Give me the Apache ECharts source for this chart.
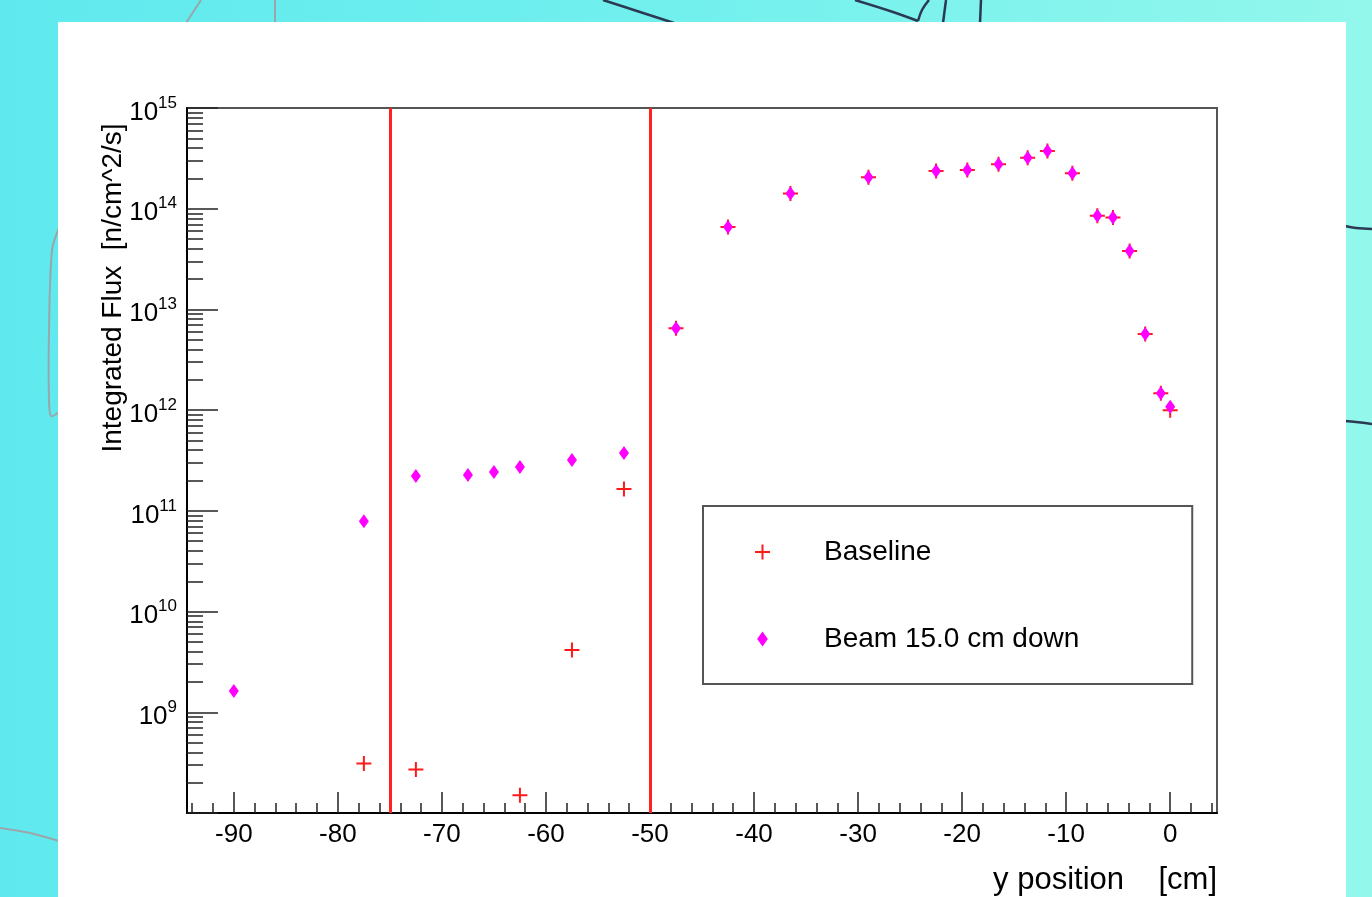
<!DOCTYPE html>
<html>
<head>
<meta charset="utf-8">
<script src="https://cdn.jsdelivr.net/npm/echarts@6/dist/echarts.min.js"></script>
<style>
  html, body { margin: 0; padding: 0; }
  #chart {
    width: 1372px; height: 897px;
    background: linear-gradient(90deg, #5fe9ee 0%, #72f0ee 50%, #93f7ec 100%);
  }
</style>
</head>
<body>
<div id="chart"></div>
<script>
// Scan positions [cm] and integrated flux [n/cm^2/s]
const beamX = [-90, -77.5, -72.5, -67.5, -65, -62.5, -57.5, -52.5, -47.5, -42.5, -36.5, -29,
               -22.5, -19.5, -16.5, -13.7, -11.8, -9.4, -7, -5.5, -3.9, -2.4, -0.9, 0];
const beamFlux = [1.63e9, 7.9e10, 2.22e11, 2.27e11, 2.43e11, 2.72e11, 3.2e11, 3.75e11,
                  6.5e12, 6.6e13, 1.42e14, 2.05e14, 2.37e14, 2.42e14, 2.76e14, 3.21e14,
                  3.74e14, 2.25e14, 8.5e13, 8.2e13, 3.8e13, 5.7e12, 1.47e12, 1.08e12];

const baseX = [-77.5, -72.5, -62.5, -57.5, -52.5, -47.5, -42.5, -36.5, -29, -22.5, -19.5,
               -16.5, -13.7, -11.8, -9.4, -7, -5.5, -3.9, -2.4, -0.9, 0];
const baseFlux = [3.1e8, 2.7e8, 1.5e8, 4.15e9, 1.65e11, 6.5e12, 6.6e13, 1.42e14, 2.05e14,
                  2.37e14, 2.42e14, 2.76e14, 3.21e14, 3.74e14, 2.25e14, 8.5e13, 8.2e13,
                  3.8e13, 5.7e12, 1.47e12, 1.0e12];

// Region boundaries [cm]
const cutLines = [-75, -50];

// Axis ticks
const xMajor = [-90, -80, -70, -60, -50, -40, -30, -20, -10, 0];
const xMinor = [-94, -92, -88, -86, -84, -82, -78, -76, -74, -72, -68, -66, -64, -62,
                -58, -56, -54, -52, -48, -46, -44, -42, -38, -36, -34, -32, -28, -26,
                -24, -22, -18, -16, -14, -12, -8, -6, -4, -2, 2, 4];
const yDecades = [9, 10, 11, 12, 13, 14, 15];          // labelled powers of ten
const yMajorExp = [8, 9, 10, 11, 12, 13, 14, 15];
const yMinorExp = [];
for (let n = 8; n < 15; n++) {
  for (let k = 2; k <= 9; k++) yMinorExp.push(n + Math.log10(k));
}

const FONT = '"Liberation Sans", Arial, Helvetica, sans-serif';
const PLUS = 'path://M6.5,0h2v6.5h6.5v2h-6.5v6.5h-2v-6.5h-6.5v-2h6.5z';
const DIAMOND = 'path://M5,0L10,7L5,14L0,7Z';

const toPairs = (xs, ys) => xs.map((x, i) => [x, ys[i]]);

const chart = echarts.init(document.getElementById('chart'), null, { renderer: 'canvas' });

const tickStyle = { color: '#222', width: 1.5 };

chart.setOption({
  animation: false,
  backgroundColor: 'transparent',
  textStyle: { fontFamily: FONT },
  grid: {
    left: 187, top: 108, width: 1030, height: 705,
    show: true, backgroundColor: '#fff', borderColor: '#555', borderWidth: 2
  },
  legend: {
    orient: 'vertical',
    left: 703, top: 506,
    padding: [31, 113, 30, 52],
    itemGap: 57,
    itemWidth: 15, itemHeight: 15,
    backgroundColor: '#fff',
    borderColor: '#555', borderWidth: 2,
    selectedMode: false,
    formatter: name => '{t|' + name + '}',
    textStyle: {
      fontSize: 28, color: '#000', fontFamily: FONT, lineHeight: 30,
      rich: { t: { fontSize: 28, lineHeight: 30, color: '#000', fontFamily: FONT, padding: [0, 0, 0, 49] } }
    },
    data: ['Baseline', 'Beam 15.0 cm down']
  },
  xAxis: [
    {
      type: 'value', min: -94.5, max: 4.5, position: 'bottom',
      axisLine: { show: true, onZero: false, lineStyle: { color: '#000', width: 2 } },
      axisTick: { show: true, inside: true, length: 21, customValues: xMajor, lineStyle: tickStyle },
      axisLabel: { customValues: xMajor, fontSize: 26, color: '#000', margin: 9, fontFamily: FONT },
      splitLine: { show: false }
    },
    {
      type: 'value', min: -94.5, max: 4.5, position: 'bottom',
      axisLine: { show: false, onZero: false },
      axisTick: { show: true, inside: true, length: 10, customValues: xMinor, lineStyle: tickStyle },
      axisLabel: { show: false },
      splitLine: { show: false }
    }
  ],
  yAxis: [
    {
      type: 'log', logBase: 10, min: 1e8, max: 1e15, position: 'left',
      axisLine: { show: true, onZero: false, lineStyle: { color: '#000', width: 2 } },
      axisTick: { show: false },
      axisLabel: { show: false },
      splitLine: { show: false }
    },
    {
      type: 'value', min: 8, max: 15, position: 'left',
      axisLine: { show: false, onZero: false },
      axisTick: { show: true, inside: true, length: 31, customValues: yMajorExp, lineStyle: tickStyle },
      axisLabel: {
        customValues: yDecades,
        margin: 10,
        padding: [9, 0, 0, 0],
        formatter: v => '{b|10}{s|' + v + '}',
        rich: {
          b: { fontSize: 26, lineHeight: 36, color: '#000', fontFamily: FONT },
          s: { fontSize: 17, lineHeight: 17, verticalAlign: 'top', color: '#000', fontFamily: FONT }
        }
      },
      splitLine: { show: false }
    },
    {
      type: 'value', min: 8, max: 15, position: 'left',
      axisLine: { show: false, onZero: false },
      axisTick: { show: true, inside: true, length: 16, customValues: yMinorExp, lineStyle: tickStyle },
      axisLabel: { show: false },
      splitLine: { show: false }
    }
  ],
  series: [
    {
      name: 'Baseline',
      type: 'scatter',
      xAxisIndex: 0, yAxisIndex: 0,
      symbol: PLUS, symbolSize: 15,
      itemStyle: { color: '#ff1a1a', opacity: 1 },
      data: toPairs(baseX, baseFlux),
      markLine: {
        silent: true,
        symbol: ['none', 'none'],
        label: { show: false },
        lineStyle: { color: '#ff2020', width: 3, type: 'solid' },
        emphasis: { disabled: true },
        data: cutLines.map(v => ({ xAxis: v }))
      },
      z: 3
    },
    {
      name: 'Beam 15.0 cm down',
      type: 'scatter',
      xAxisIndex: 0, yAxisIndex: 0,
      symbol: DIAMOND, symbolSize: [10, 14],
      itemStyle: { color: '#ff00ff', opacity: 1 },
      data: toPairs(beamX, beamFlux),
      z: 4
    }
  ],
  graphic: [
    // background sketch strokes
    { type: 'polyline', z: -20, shape: { points: [[603, 0], [640, 12], [674, 23]], smooth: 0.3 },
      style: { stroke: '#2b3a52', lineWidth: 2.5, fill: null } },
    { type: 'polyline', z: -20, shape: { points: [[855, 0], [893, 12], [918, 21]], smooth: 0.3 },
      style: { stroke: '#2b3a52', lineWidth: 2.5, fill: null } },
    { type: 'polyline', z: -20, shape: { points: [[918, 21], [922, 10], [929, 0]], smooth: 0.4 },
      style: { stroke: '#2b3a52', lineWidth: 2.5, fill: null } },
    { type: 'polyline', z: -20, shape: { points: [[946, 0], [943, 23]] },
      style: { stroke: '#2b3a52', lineWidth: 2.5, fill: null } },
    { type: 'polyline', z: -20, shape: { points: [[981, 0], [980, 23]] },
      style: { stroke: '#2b3a52', lineWidth: 2.5, fill: null } },
    { type: 'polyline', z: -20, shape: { points: [[1345, 226], [1356, 228], [1372, 229]], smooth: 0.4 },
      style: { stroke: '#2b3a52', lineWidth: 2.5, fill: null } },
    { type: 'polyline', z: -20, shape: { points: [[1345, 421], [1356, 422], [1372, 424]], smooth: 0.4 },
      style: { stroke: '#2b3a52', lineWidth: 2.5, fill: null } },
    { type: 'polyline', z: -20, shape: { points: [[201, 0], [186, 23]] },
      style: { stroke: '#9aa6ac', lineWidth: 2, fill: null } },
    { type: 'polyline', z: -20, shape: { points: [[275, 0], [275, 23]] },
      style: { stroke: '#9aa6ac', lineWidth: 2, fill: null } },
    { type: 'polyline', z: -20, shape: { points: [[59, 228], [52, 250], [49, 330], [49, 400], [51, 416], [59, 412]], smooth: 0.3 },
      style: { stroke: '#9aa6ac', lineWidth: 2, fill: null } },
    { type: 'polyline', z: -20, shape: { points: [[0, 828], [30, 833], [59, 841]], smooth: 0.3 },
      style: { stroke: '#9aa6ac', lineWidth: 2, fill: null } },
    // white canvas panel
    { type: 'rect', z: -10, shape: { x: 58, y: 22, width: 1288, height: 880 },
      style: { fill: '#ffffff' } },
    // axis titles
    { type: 'text', z: 10, x: 113, y: 288, rotation: Math.PI / 2,
      style: { text: 'Integrated Flux  [n/cm^2/s]', font: '28px ' + FONT, fill: '#000',
               align: 'center', verticalAlign: 'middle' } },
    { type: 'text', z: 10, x: 1217, y: 880,
      style: { text: 'y position    [cm]', font: '31px ' + FONT, fill: '#000',
               align: 'right', verticalAlign: 'middle' } }
  ]
});
</script>
</body>
</html>
